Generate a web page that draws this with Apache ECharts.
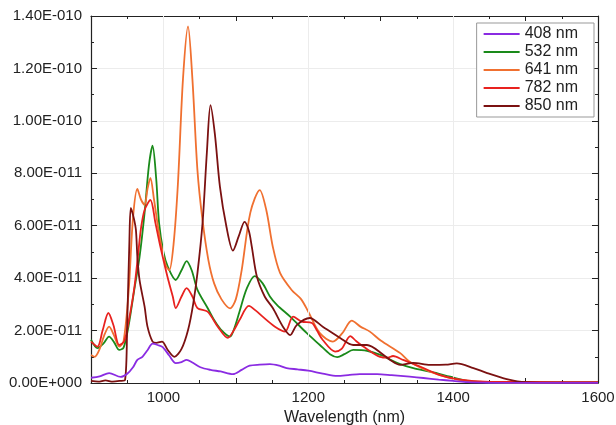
<!DOCTYPE html>
<html>
<head>
<meta charset="utf-8">
<script src="https://cdn.jsdelivr.net/npm/echarts@6/dist/echarts.min.js"></script>
<style>html,body{margin:0;padding:0;background:#fff}#c{width:616px;height:425px}</style>
</head>
<body>
<div id="c"></div>
<script>
// values in units of 1E-11
const seriesNames = ['408 nm', '532 nm', '641 nm', '782 nm', '850 nm'];
const xLabelTicks = [1000, 1200, 1400, 1600];
const xGridLines = [1000, 1200, 1400];

const wl408 = [900,912,925,941,950,958,964,971,978,985,992,999,1008,1017,1025,1032,1040,1051,1065,1079,1096,1108,1119,1133,1147,1160,1170,1185,1200,1220,1240,1255,1271,1295,1315,1340,1359,1380,1400,1420,1450,1500,1600];
const v408  = [0.2,0.25,0.38,0.23,0.35,0.6,0.88,1.0,1.25,1.5,1.45,1.37,1.05,0.76,0.8,0.88,0.78,0.6,0.5,0.44,0.34,0.5,0.66,0.7,0.72,0.66,0.57,0.52,0.47,0.36,0.27,0.3,0.34,0.34,0.3,0.24,0.19,0.13,0.08,0.03,0.01,0.005,0.005];

const wl532 = [900,909,917,925,932,939,945,952,960,967,974,980,985,990,994,1000,1006,1017,1025,1032,1039,1047,1061,1070,1079,1092,1098,1105,1115,1126,1137,1147,1157,1175,1198,1216,1230,1240,1250,1262,1281,1304,1309,1327,1345,1370,1396,1420,1450,1500,1600];
const v532  = [1.65,1.33,1.5,1.77,1.55,1.26,1.35,2.2,3.6,4.8,6.5,8.3,9.05,7.8,6.1,5.0,4.44,3.93,4.3,4.65,4.3,3.55,2.86,2.4,2.05,1.77,2.1,2.72,3.6,4.08,3.8,3.3,2.97,2.53,1.9,1.45,1.1,0.99,1.1,1.26,1.23,1.03,0.95,0.72,0.57,0.42,0.24,0.08,0.02,0.01,0.01];

const wl641 = [900,905,912,918,925,932,939,945,952,958,964,969,974,978,982,987,994,1003,1008,1014,1020,1027,1034,1040,1047,1054,1062,1070,1080,1092,1100,1108,1120,1133,1142,1151,1161,1177,1190,1200,1216,1234,1247,1260,1272,1285,1300,1327,1340,1368,1396,1420,1450,1500,1600];
const v641  = [1.07,1.0,1.3,1.8,2.15,1.8,1.39,1.6,3.5,6.3,7.4,7.0,6.8,7.4,7.82,7.0,5.7,4.5,4.3,5.3,7.6,11.6,13.6,11.6,8.1,6.2,4.7,3.8,3.2,2.85,3.2,4.3,6.5,7.36,6.6,5.2,4.2,3.55,3.2,2.72,1.9,1.58,1.9,2.38,2.15,1.96,1.62,1.14,0.81,0.43,0.19,0.08,0.03,0.01,0.01];

const wl782 = [900,909,916,924,931,939,946,953,960,965,969,974,982,989,995,1001,1007,1013,1017,1025,1032,1040,1047,1061,1075,1089,1097,1105,1118,1128,1137,1154,1168,1179,1191,1205,1212,1220,1237,1246,1258,1266,1276,1299,1310,1317,1331,1355,1382,1405,1437,1470,1500,1600];
const v782  = [1.58,1.39,2.0,2.67,2.2,1.45,1.6,2.5,3.67,4.9,5.9,6.6,6.98,6.1,5.3,4.58,3.9,3.29,2.86,3.3,3.62,3.3,2.86,2.72,2.15,1.72,2.0,2.4,2.94,2.75,2.53,2.15,1.96,2.53,2.34,2.29,2.0,1.64,1.2,1.3,1.79,1.6,1.39,1.0,0.97,1.03,0.88,0.62,0.3,0.15,0.06,0.04,0.04,0.03];

const wl850 = [900,910,920,930,940,947,950,953,955,959,962,964,967,974,978,985,990,998,1006,1015,1025,1034,1041,1047,1054,1060,1065,1071,1078,1087,1096,1104,1112,1118,1122,1129,1140,1151,1165,1175,1184,1202,1220,1244,1262,1281,1304,1313,1327,1345,1368,1390,1405,1428,1447,1474,1500,1550,1600];
const v850  = [0.08,0.05,0.1,0.05,0.08,0.12,2.3,5.4,6.68,6.3,5.84,4.82,3.93,2.91,2.15,1.58,1.53,1.58,1.26,1.0,1.3,2.02,3.0,4.2,6.1,8.8,10.6,9.5,7.49,5.96,5.05,5.6,6.15,5.8,5.2,4.06,3.29,2.86,2.15,1.83,2.21,2.48,2.15,1.72,1.45,1.45,1.07,0.88,0.69,0.77,0.69,0.7,0.75,0.57,0.38,0.15,0.03,0.01,0.01];

const colors = ['#8a2be2', '#1a8a1a', '#f07030', '#e8221f', '#7b1111'];
const wls = [wl408, wl532, wl641, wl782, wl850];
const vals = [v408, v532, v641, v782, v850];

function fmtY(v) {
  const real = v * 1e-11;
  if (real === 0) return '0.00E+000';
  let e = Math.floor(Math.log10(Math.abs(real)) + 1e-9);
  let m = real / Math.pow(10, e);
  if (Math.abs(m) >= 9.995) { m /= 10; e += 1; }
  const sign = e < 0 ? '-' : '+';
  return m.toFixed(2) + 'E' + sign + String(Math.abs(e)).padStart(3, '0');
}
function fmtX(v) {
  return xLabelTicks.indexOf(v) >= 0 ? String(v) : '';
}

const font = 'Liberation Sans, Arial, sans-serif';
const chart = echarts.init(document.getElementById('c'), null, {renderer: 'canvas'});

const baseX = {
  type: 'value', min: 900, max: 1600, interval: 100,
  axisLine: {show: true, onZero: false, lineStyle: {color: '#222', width: 1.2}},
  axisTick: {show: true, inside: true, length: 5, lineStyle: {color: '#222'}},
  minorTick: {show: true, splitNumber: 2, length: 3, lineStyle: {color: '#222'}},
  splitLine: {show: false}
};
const baseY = {
  type: 'value', min: 0, max: 14, interval: 2,
  axisLine: {show: true, onZero: false, lineStyle: {color: '#222', width: 1.2}},
  axisTick: {show: true, inside: true, length: 6, lineStyle: {color: '#222'}},
  minorTick: {show: true, splitNumber: 2, length: 3, lineStyle: {color: '#222'}},
};

const lineSeries = seriesNames.map((n, i) => ({
  name: n, type: 'line', smooth: 0.3, showSymbol: false, symbol: 'none',
  xAxisIndex: 0, yAxisIndex: 0,
  lineStyle: {color: colors[i], width: 1.8},
  itemStyle: {color: colors[i]},
  z: 2 + (i === 0 ? 5 : i),
  data: wls[i].map((w, k) => [w, vals[i][k]])
}));

const gridSeries = {
  name: 'grid', type: 'line', data: [], silent: true, z: 1,
  markLine: {
    silent: true, symbol: ['none', 'none'], label: {show: false},
    lineStyle: {color: '#ececec', width: 1, type: 'solid'},
    emphasis: {disabled: true},
    animation: false,
    data: xGridLines.map(x => ({xAxis: x}))
  }
};

chart.setOption({
  animation: false,
  backgroundColor: '#fff',
  grid: {left: 91, right: 18, top: 16, bottom: 42, containLabel: false, outerBoundsMode: 'none'},
  legend: {
    orient: 'vertical', right: 22, top: 23,
    data: seriesNames,
    icon: 'rect', itemWidth: 36, itemHeight: 2, itemGap: 2,
    padding: [3, 16, 3, 7],
    borderColor: '#999', borderWidth: 1, backgroundColor: '#fff',
    textStyle: {fontFamily: font, fontSize: 16, lineHeight: 16, color: '#222'}
  },
  xAxis: [
    Object.assign({}, baseX, {
      position: 'bottom',
      name: 'Wavelength (nm)', nameLocation: 'middle', nameGap: 22,
      nameTextStyle: {fontFamily: font, fontSize: 16, color: '#222'},
      axisLabel: {fontFamily: font, fontSize: 15, color: '#222', margin: 7, formatter: fmtX, showMinLabel: false}
    }),
    Object.assign({}, baseX, {
      position: 'top', axisLabel: {show: false}
    })
  ],
  yAxis: [
    Object.assign({}, baseY, {
      position: 'left',
      axisLabel: {fontFamily: font, fontSize: 15, color: '#222', margin: 9, formatter: fmtY},
      splitLine: {show: true, lineStyle: {color: '#ececec', width: 1}}
    }),
    Object.assign({}, baseY, {
      position: 'right', axisLabel: {show: false}, splitLine: {show: false}
    })
  ],
  series: [gridSeries].concat(lineSeries)
});
</script>
</body>
</html>
